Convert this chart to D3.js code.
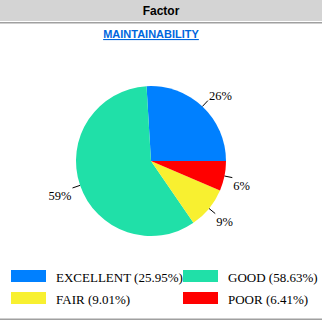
<!DOCTYPE html>
<html>
<head>
<meta charset="utf-8">
<script src="https://cdn.jsdelivr.net/npm/d3@7"></script>
<style>
  body { margin: 0; background: #fff; }
</style>
</head>
<body>
<div class="chart"></div>
<script>
var svgWidth = 322;
var svgHeight = 322;

// chart data
var categories = ["EXCELLENT", "GOOD", "FAIR", "POOR"];
var percents = [25.95, 58.63, 9.01, 6.41];
var sliceLabels = ["26%", "59%", "9%", "6%"];
var colors = ["#0080ff", "#20e0a8", "#f8f030", "#ff0000"];

var data = categories.map(function (c, i) {
    return { name: c, value: percents[i], label: sliceLabels[i], color: colors[i] };
});

var svg = d3.select(".chart")
    .append("svg")
    .attr("width", svgWidth)
    .attr("height", svgHeight);

// header band
svg.append("rect")
    .attr("x", 0).attr("y", 0)
    .attr("width", svgWidth).attr("height", 21)
    .attr("fill", "#d4d4d4");
svg.append("rect")
    .attr("x", 0).attr("y", 22)
    .attr("width", svgWidth).attr("height", 1.5)
    .attr("fill", "#a0a0a0");
svg.append("text")
    .attr("x", svgWidth / 2).attr("y", 15)
    .attr("text-anchor", "middle")
    .attr("font-family", "Liberation Sans, Arial, sans-serif")
    .attr("font-weight", "bold")
    .attr("font-size", "12px")
    .attr("fill", "#000")
    .text("Factor");

// bottom line
svg.append("rect")
    .attr("x", 0).attr("y", 318.5)
    .attr("width", svgWidth).attr("height", 1.5)
    .attr("fill", "#a0a0a0");

// chart title
svg.append("text")
    .attr("x", 151).attr("y", 38)
    .attr("text-anchor", "middle")
    .attr("font-family", "Liberation Sans, Arial, sans-serif")
    .attr("font-weight", "bold")
    .attr("font-size", "11px")
    .attr("fill", "#0066dd")
    .attr("text-decoration", "underline")
    .text("MAINTAINABILITY");

// pie: counterclockwise starting at 3 o'clock
var cx = 151, cy = 161, radius = 75;

var pie = d3.pie()
    .sort(null)
    .value(d => d.value)
    .startAngle(Math.PI / 2)
    .endAngle(Math.PI / 2 - 2 * Math.PI);

var arc = d3.arc().innerRadius(0).outerRadius(radius);

var pieGroup = svg.append("g")
    .attr("transform", `translate(${cx}, ${cy})`);

var arcs = pie(data);

pieGroup.selectAll("path")
    .data(arcs)
    .enter()
    .append("path")
    .attr("d", arc)
    .attr("fill", d => d.data.color);

// leader lines + labels
arcs.forEach(function (d) {
    var mid = (d.startAngle + d.endAngle) / 2;
    var sx = Math.sin(mid), sy = -Math.cos(mid);
    var x1 = sx * radius, y1 = sy * radius;
    var x2 = sx * (radius + 8), y2 = sy * (radius + 8);

    pieGroup.append("line")
        .attr("x1", x1).attr("y1", y1)
        .attr("x2", x2).attr("y2", y2)
        .attr("stroke", "#000")
        .attr("stroke-width", 1);

    var right = sx >= 0;
    var lower = sy > 0;
    pieGroup.append("text")
        .attr("x", right ? x2 + 1 : x2 - 1)
        .attr("y", lower ? y2 + 12 : y2 - 1)
        .attr("text-anchor", right ? "start" : "end")
        .attr("font-family", "Liberation Serif, Times New Roman, serif")
        .attr("font-size", "12.5px")
        .attr("fill", "#000")
        .text(d.data.label);
});

// legend, 2 columns
var legend = svg.append("g");
var legendItems = legend.selectAll("g")
    .data(data)
    .enter()
    .append("g")
    .attr("transform", function (d, i) {
        var col = i % 2, row = Math.floor(i / 2);
        return `translate(${11 + col * 172}, ${270 + row * 22})`;
    });

legendItems.append("rect")
    .attr("width", 35)
    .attr("height", 12)
    .attr("fill", d => d.color);

legendItems.append("text")
    .attr("x", 45)
    .attr("y", 11.5)
    .attr("font-family", "Liberation Serif, Times New Roman, serif")
    .attr("font-size", "13px")
    .attr("fill", "#000")
    .text(d => `${d.name} (${d.value.toFixed(2)}%)`);
</script>
</body>
</html>
